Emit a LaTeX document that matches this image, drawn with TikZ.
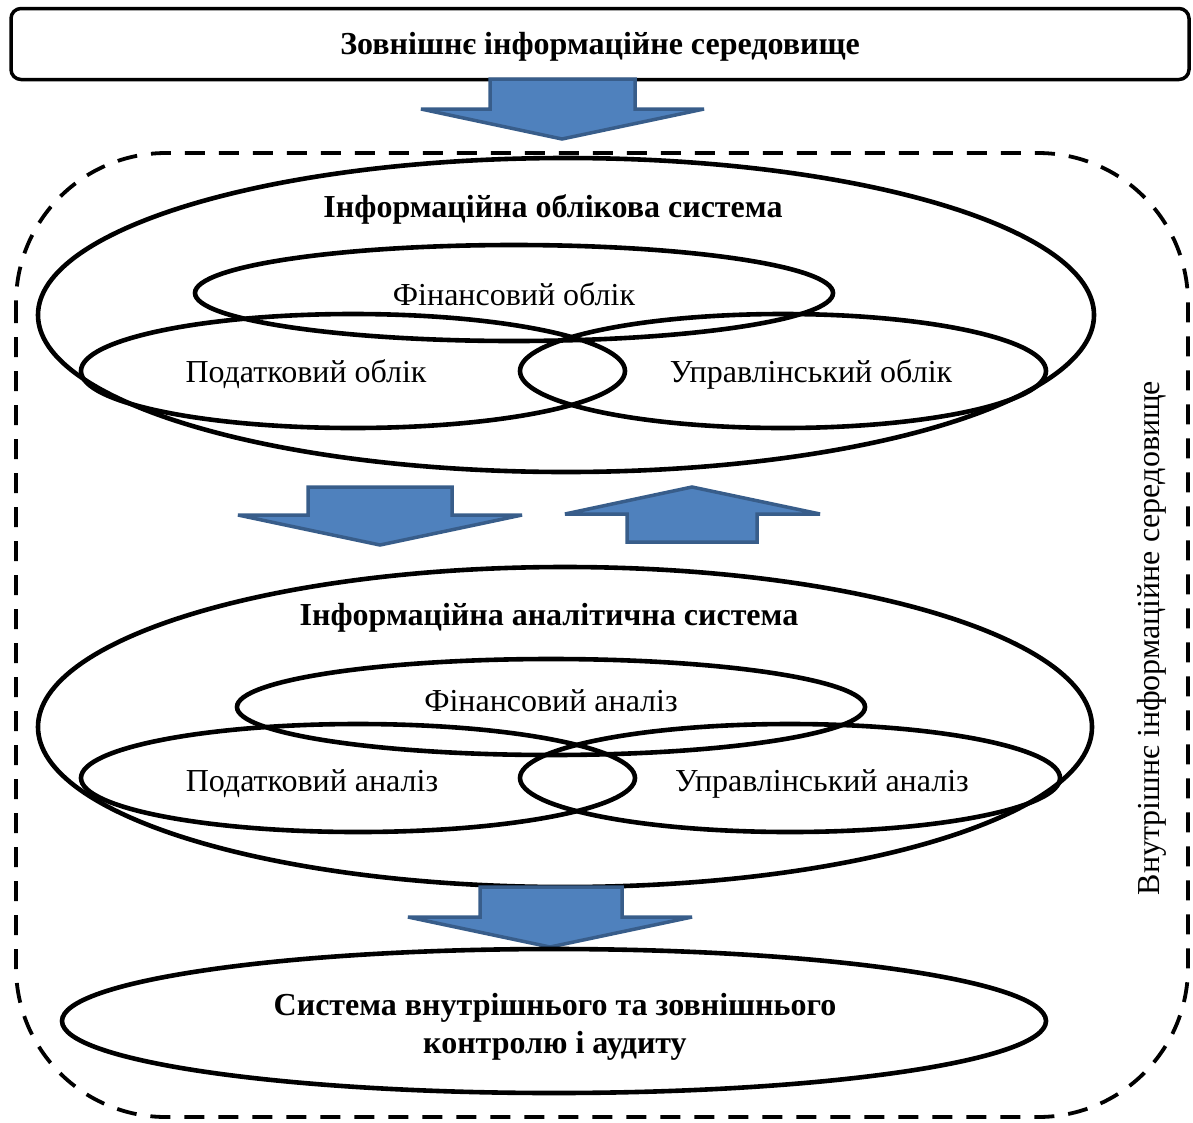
\documentclass[tikz,border=0pt]{standalone}
\usepackage{fontspec}
\setmainfont{Liberation Serif}
\usetikzlibrary{shapes.geometric}
\definecolor{arrfill}{HTML}{4F81BD}
\definecolor{arrline}{HTML}{385D8A}
\begin{document}
\begin{tikzpicture}[x=1pt,y=-1pt,
  ell/.style={draw=black,line width=4.6pt},
  bigarrow/.style={fill=arrfill,draw=arrline,line width=3.5pt,line join=miter,miter limit=2},
  lbl/.style={font=\fontsize{32}{38}\selectfont,inner sep=0pt},
  blbl/.style={font=\fontsize{32}{38}\selectfont\bfseries,inner sep=0pt,align=center}]
\useasboundingbox (0,0) rectangle (1193,1122);
% top box
\node[draw=black,line width=3.5pt,rounded corners=10pt,minimum width=1178pt,minimum height=71pt,inner sep=0pt] (ext) at (600,44) {};
\node[blbl] (extlbl) at (600,47) {Зовнішнє інформаційне середовище};
% dashed internal environment
\draw[line width=3.8pt,dash pattern=on 20pt off 14pt,rounded corners=150pt] (16,153) rectangle (1188,1117);
\node[lbl,rotate=90] (intenv) at (1152,638) {Внутрішнє інформаційне середовище};
% top arrow
\draw[bigarrow] (490,79) -- (635,79) -- (635,109) -- (704,109) -- (562,139) -- (421,109) -- (490,109) -- cycle;
% accounting system
\draw[ell] (566,315) ellipse [x radius=528pt,y radius=157pt];
\node[blbl] (acc) at (553,209) {Інформаційна облікова система};
\draw[ell] (514,293) ellipse [x radius=319pt,y radius=48pt];
\draw[ell] (353,371) ellipse [x radius=272pt,y radius=57pt];
\draw[ell] (783,371) ellipse [x radius=263pt,y radius=57pt];
\node[lbl] (fin1) at (514,294) {Фінансовий облік};
\node[lbl] (tax1) at (306,374) {Податковий облік};
\node[lbl] (man1) at (811,374) {Управлінський облік};
% middle arrows
\draw[bigarrow] (308,487) -- (452,487) -- (452,515) -- (522,515) -- (380,545) -- (238,515) -- (308,515) -- cycle;
\draw[bigarrow] (627,542) -- (757,542) -- (757,514) -- (820,514) -- (692,487) -- (565,514) -- (627,514) -- cycle;
% analytic system
\draw[ell] (565,727) ellipse [x radius=527pt,y radius=160pt];
\node[blbl] (ana) at (549,618) {Інформаційна аналітична система};
\draw[ell] (551,707) ellipse [x radius=314pt,y radius=48pt];
\draw[ell] (358,778) ellipse [x radius=277pt,y radius=54pt];
\draw[ell] (790,778) ellipse [x radius=270pt,y radius=54pt];
\node[lbl] (fin2) at (551,701) {Фінансовий аналіз};
\node[lbl] (tax2) at (312,784) {Податковий аналіз};
\node[lbl] (man2) at (822,784) {Управлінський аналіз};
% bottom arrow
\draw[bigarrow] (480,887) -- (622,887) -- (622,917) -- (692,917) -- (550,947) -- (408,917) -- (480,917) -- cycle;
% control
\draw[ell] (554,1021) ellipse [x radius=492pt,y radius=72pt];
\node[blbl] (ctrl) at (555,1027) {Система внутрішнього та зовнішнього\\контролю і аудиту};
\end{tikzpicture}
\end{document}
